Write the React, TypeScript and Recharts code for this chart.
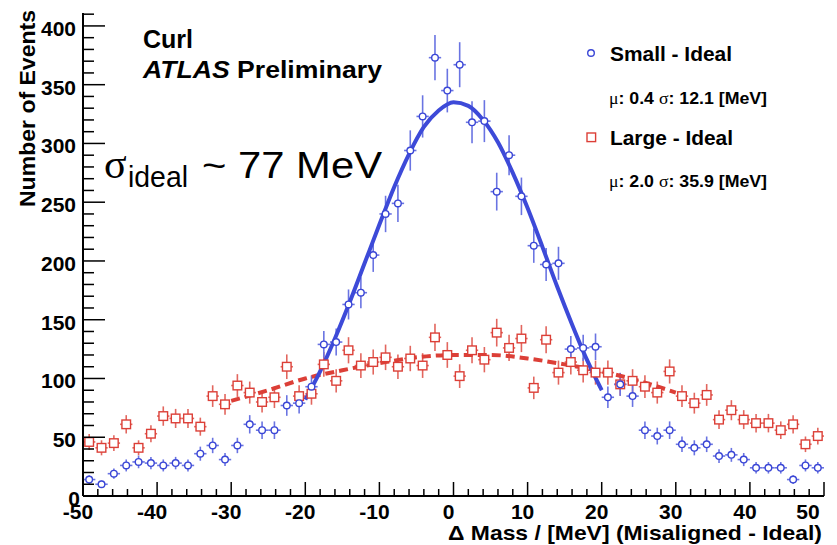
import { ComposedChart, Scatter, Line, XAxis, YAxis, ErrorBar } from "recharts";

// bin contents, 60 bins from -50 to 50 MeV
const SMALL_IDEAL = [
  14, 10, 19, 26, 29, 28, 26, 28, 26, 36, 43, 31, 43, 61, 56, 56, 77, 79, 93, 129,
  131, 163, 173, 205, 240, 249, 294, 323, 373, 345, 367, 318, 319, 259, 290, 255, 213, 197, 198, 125,
  126, 127, 84, 95, 85, 56, 51, 56, 44, 41, 44, 34, 35, 31, 24, 24, 24, 14, 26, 24,
];
const LARGE_IDEAL = [
  46, 41, 45, 61, 41, 53, 68, 66, 66, 59, 85, 78, 94, 88, 80, 84, 110, 85, 87, 112,
  98, 124, 111, 114, 118, 110, 117, 111, 135, 120, 102, 124, 116, 139, 126, 134, 92, 133, 105, 114,
  107, 105, 105, 95, 98, 93, 88, 106, 85, 79, 86, 65, 73, 65, 62, 62, 56, 61, 44, 51,
];

// fitted curves
const FIT_SMALL_X = [-20, -18, -16, -14, -12, -10, -8, -6, -4, -2, 0, 2, 4, 6, 8, 10, 12, 14, 16, 18, 20];
const FIT_SMALL_Y = [82, 106, 134, 165, 198, 231, 263, 291, 314, 328, 335, 332, 320, 301, 275, 245, 212, 178, 146, 116, 90];
const FIT_LARGE_X = [-30, -25, -20, -15, -10, -5, 0, 5, 10, 15, 20, 25, 30];
const FIT_LARGE_Y = [81, 90, 100, 107, 113, 118, 120, 120, 117, 112, 106, 98, 88];

const X_LABELS = [-50, -40, -30, -20, -10, 0, 10, 20, 30, 40, 50];
const Y_LABELS = [0, 50, 100, 150, 200, 250, 300, 350, 400];

const W = 837;
const H = 545;
const LEFT = 83;
const RIGHT = 824;
const TOP = 13;
const BOTTOM = 496;
const Y_MAX = 411;
const BIN = 100 / 60;

const BLUE = "#3a46d6";
const BLUE_ERR = "#6a74e2";
const BLUE_FIT = "#3d4ad8";
const RED = "#dc3f37";
const RED_ERR = "#e2665e";
const FONT = "'Liberation Sans', Arial, Helvetica, sans-serif";
const SERIF = "'Liberation Serif', 'Times New Roman', serif";

const smallData = SMALL_IDEAL.map((v, i) => ({ x: -50 + (i + 0.5) * BIN, y: v, ey: Math.sqrt(v), ex: BIN / 2 }));
const largeData = LARGE_IDEAL.map((v, i) => ({ x: -50 + (i + 0.5) * BIN, y: v, ey: Math.sqrt(v), ex: BIN / 2 }));
const fitSmall = FIT_SMALL_X.map((x, i) => ({ x, y: FIT_SMALL_Y[i] }));
const fitLarge = FIT_LARGE_X.map((x, i) => ({ x, y: FIT_LARGE_Y[i] }));

const bottomTicks: number[] = [];
for (let v = -50; v <= 50; v += 2) bottomTicks.push(v);
const topTicks: number[] = [];
for (let k = 0; k <= 60; k++) topTicks.push(-50 + (k * 10) / 6);
const yTicks: number[] = [];
for (let v = 0; v <= 410; v += 10) yTicks.push(v);

const labelStyle = { fontFamily: FONT, fontWeight: 700, fontSize: 21, fill: "#000" };

function BottomTick(props: any) {
  const { x, payload } = props;
  const v = payload.value;
  const major = X_LABELS.includes(v);
  let lx = x - 5;
  if (v === 50) lx = x - 16;
  return (
    <g>
      <line x1={x} x2={x} y1={BOTTOM} y2={BOTTOM - (major ? 14 : 7)} stroke="#000" strokeWidth={1.5} />
      {major && (
        <text x={lx} y={519} textAnchor="middle" style={labelStyle}>
          {v}
        </text>
      )}
    </g>
  );
}

function TopTick(props: any) {
  const { x } = props;
  return <line x1={x} x2={x} y1={TOP} y2={TOP + 6} stroke="#000" strokeWidth={1.5} />;
}

function LeftTick(props: any) {
  const { y, payload } = props;
  const v = payload.value;
  const major = Y_LABELS.includes(v);
  return (
    <g>
      <line x1={LEFT} x2={LEFT + (major ? 22 : 11)} y1={y} y2={y} stroke="#000" strokeWidth={1.5} />
      {major && (
        <text x={v === 0 ? 80 : 76} y={v === 0 ? 506 : y + 10} textAnchor="end" style={labelStyle}>
          {v}
        </text>
      )}
    </g>
  );
}

function RightTick(props: any) {
  const { y, payload } = props;
  const major = Y_LABELS.includes(payload.value);
  return <line x1={RIGHT} x2={RIGHT - (major ? 14 : 9)} y1={y} y2={y} stroke="#000" strokeWidth={1.5} />;
}

const circle = (p: any) => <circle cx={p.cx} cy={p.cy} r={3.3} fill="#fff" stroke={BLUE} strokeWidth={1.4} />;
const square = (p: any) => (
  <rect x={p.cx - 4.3} y={p.cy - 4.3} width={8.6} height={8.6} fill="#fff" stroke={RED} strokeWidth={1.4} />
);

export default function App() {
  return (
    <div style={{ position: "absolute", left: 0, top: 0, width: W, height: H, background: "#fff" }}>
      <ComposedChart
        width={W}
        height={H}
        margin={{ top: TOP, right: W - RIGHT, bottom: H - BOTTOM - 30, left: LEFT - 60 }}
      >
        <XAxis
          xAxisId="b"
          dataKey="x"
          type="number"
          domain={[-50, 50]}
          ticks={bottomTicks}
          interval={0}
          height={30}
          tickLine={false}
          axisLine={{ stroke: "#000", strokeWidth: 2 }}
          tick={BottomTick}
        />
        <XAxis
          xAxisId="t"
          orientation="top"
          type="number"
          domain={[-50, 50]}
          ticks={topTicks}
          interval={0}
          height={0}
          tickLine={false}
          axisLine={{ stroke: "#000", strokeWidth: 2 }}
          tick={TopTick}
        />
        <YAxis
          yAxisId="l"
          dataKey="y"
          type="number"
          domain={[0, Y_MAX]}
          ticks={yTicks}
          interval={0}
          width={60}
          tickLine={false}
          axisLine={{ stroke: "#000", strokeWidth: 2 }}
          tick={LeftTick}
        />
        <YAxis
          yAxisId="r"
          orientation="right"
          type="number"
          domain={[0, Y_MAX]}
          ticks={yTicks}
          interval={0}
          width={0}
          tickLine={false}
          axisLine={{ stroke: "#000", strokeWidth: 2 }}
          tick={RightTick}
        />
        <Scatter xAxisId="b" yAxisId="l" data={largeData} dataKey="y" shape={square} isAnimationActive={false}>
          <ErrorBar dataKey="ey" direction="y" width={0} stroke={RED_ERR} strokeWidth={1.6} isAnimationActive={false} />
          <ErrorBar dataKey="ex" direction="x" width={0} stroke={RED_ERR} strokeWidth={1.6} isAnimationActive={false} />
        </Scatter>
        <Scatter xAxisId="b" yAxisId="l" data={smallData} dataKey="y" shape={circle} isAnimationActive={false}>
          <ErrorBar dataKey="ey" direction="y" width={0} stroke={BLUE_ERR} strokeWidth={1.6} isAnimationActive={false} />
          <ErrorBar dataKey="ex" direction="x" width={0} stroke={BLUE_ERR} strokeWidth={1.6} isAnimationActive={false} />
        </Scatter>
        <Line
          xAxisId="b"
          yAxisId="l"
          data={fitLarge}
          dataKey="y"
          type="monotone"
          stroke={RED}
          strokeWidth={4}
          strokeDasharray="9 5"
          dot={false}
          isAnimationActive={false}
        />
        <Line
          xAxisId="b"
          yAxisId="l"
          data={fitSmall}
          dataKey="y"
          type="monotone"
          stroke={BLUE_FIT}
          strokeWidth={4}
          dot={false}
          isAnimationActive={false}
        />
      </ComposedChart>

      <svg width={W} height={H} style={{ position: "absolute", left: 0, top: 0, pointerEvents: "none" }}>
        <text
          x={35}
          y={10}
          transform="rotate(-90 35 10)"
          textAnchor="end"
          textLength={197}
          lengthAdjust="spacingAndGlyphs"
          style={{ fontFamily: FONT, fontWeight: 700, fontSize: 22 }}
        >
          Number of Events
        </text>
        <text
          x={448}
          y={540}
          textLength={374}
          lengthAdjust="spacingAndGlyphs"
          style={{ fontFamily: FONT, fontWeight: 700, fontSize: 21 }}
        >
          Δ Mass / [MeV] (Misaligned - Ideal)
        </text>

        <text x={143} y={48} style={{ fontFamily: FONT, fontWeight: 700, fontSize: 25 }}>
          Curl
        </text>
        <text
          x={143}
          y={78}
          textLength={239}
          lengthAdjust="spacingAndGlyphs"
          style={{ fontFamily: FONT, fontWeight: 700, fontSize: 24 }}
        >
          <tspan fontStyle="italic">ATLAS</tspan> Preliminary
        </text>

        <text x={104} y={178} style={{ fontFamily: SERIF, fontSize: 42 }}>
          σ
        </text>
        <text x={128} y={187} textLength={60} lengthAdjust="spacingAndGlyphs" style={{ fontFamily: FONT, fontSize: 29 }}>
          ideal
        </text>
        <text x={202} y={178} textLength={180} lengthAdjust="spacingAndGlyphs" style={{ fontFamily: FONT, fontSize: 37 }}>
          ~ 77 MeV
        </text>

        <circle cx={591} cy={53} r={3.3} fill="#fff" stroke={BLUE} strokeWidth={1.4} />
        <text
          x={610}
          y={61}
          textLength={122}
          lengthAdjust="spacingAndGlyphs"
          style={{ fontFamily: FONT, fontWeight: 700, fontSize: 20 }}
        >
          Small - Ideal
        </text>
        <text
          x={609}
          y={104}
          textLength={158}
          lengthAdjust="spacingAndGlyphs"
          style={{ fontFamily: FONT, fontWeight: 700, fontSize: 16 }}
        >
          <tspan fontFamily={SERIF} fontWeight={400}>μ</tspan>: 0.4 <tspan fontFamily={SERIF} fontWeight={400}>σ</tspan>: 12.1 [MeV]
        </text>

        <rect x={587} y={133} width={8.6} height={8.6} fill="#fff" stroke={RED} strokeWidth={1.4} />
        <text
          x={610}
          y={145}
          textLength={123}
          lengthAdjust="spacingAndGlyphs"
          style={{ fontFamily: FONT, fontWeight: 700, fontSize: 20 }}
        >
          Large - Ideal
        </text>
        <text
          x={609}
          y={187}
          textLength={158}
          lengthAdjust="spacingAndGlyphs"
          style={{ fontFamily: FONT, fontWeight: 700, fontSize: 16 }}
        >
          <tspan fontFamily={SERIF} fontWeight={400}>μ</tspan>: 2.0 <tspan fontFamily={SERIF} fontWeight={400}>σ</tspan>: 35.9 [MeV]
        </text>
      </svg>
    </div>
  );
}
